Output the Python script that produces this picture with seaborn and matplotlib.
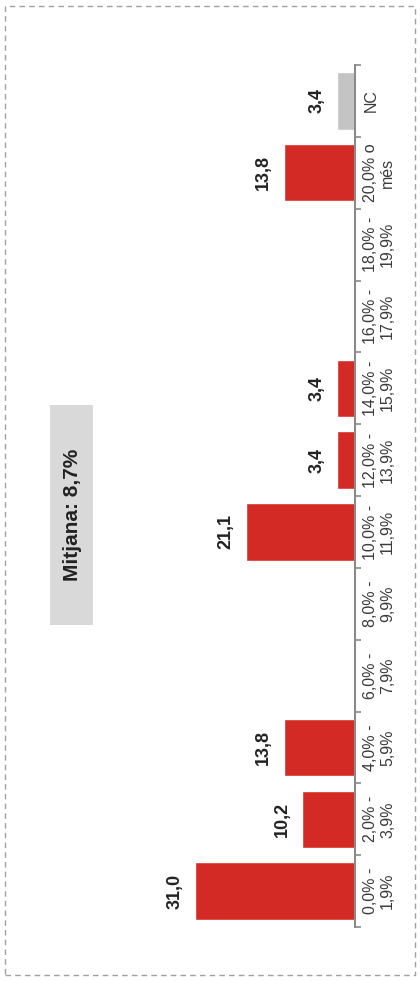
import matplotlib
matplotlib.use("Agg")
import matplotlib.pyplot as plt
from matplotlib.patches import Rectangle
import seaborn as sns
import pandas as pd

# Distribution of responses by percentage band (share of respondents, %)
categories = [
    "0,0% -\n1,9%", "2,0% -\n3,9%", "4,0% -\n5,9%", "6,0% -\n7,9%",
    "8,0% -\n9,9%", "10,0% -\n11,9%", "12,0% -\n13,9%", "14,0% -\n15,9%",
    "16,0% -\n17,9%", "18,0% -\n19,9%", "20,0% o\nmés", "NC",
]
values = [31.0, 10.2, 13.8, 0.0, 0.0, 21.1, 3.4, 3.4, 0.0, 0.0, 13.8, 3.4]
mean_label = "Mitjana: 8,7%"

RED = "#d42a25"
GREY_BAR = "#c4c4c4"
AXIS = "#8a8a8a"

sns.set_theme(style="white")
plt.rcParams["font.family"] = ["Liberation Sans", "DejaVu Sans"]

W, H = 420, 981
fig = plt.figure(figsize=(W / 100, H / 100), dpi=100)
fig.patch.set_facecolor("white")

ax = fig.add_axes([0.0, (H - 927) / H, 355 / W, (927 - 65) / H])
df = pd.DataFrame({"cat": categories, "val": values})
palette = [RED] * (len(categories) - 1) + [GREY_BAR]
sns.barplot(data=df, x="val", y="cat", hue="cat", order=categories,
            hue_order=categories, palette=palette, orient="h", width=0.8,
            saturation=1, legend=False, ax=ax)

# bars grow leftwards from the axis on the right; first band at the bottom
ax.set_xlim(68.8, 0)
ax.set_ylim(-0.5, len(categories) - 0.5)
ax.set_xlabel("")
ax.set_ylabel("")
ax.set_xticks([])

for side in ("left", "top", "bottom"):
    ax.spines[side].set_visible(False)
ax.spines["right"].set_visible(True)
ax.spines["right"].set_color(AXIS)
ax.spines["right"].set_linewidth(1.5)

ax.yaxis.tick_right()
ax.set_yticks(range(len(categories)))
ax.set_yticklabels(categories, rotation=90, va="center", ha="left",
                   multialignment="center", fontsize=11.5, color="#3a3a3a",
                   linespacing=1.15)
ax.tick_params(axis="y", which="major", length=0, pad=6)
ax.set_yticks([i - 0.5 for i in range(len(categories) + 1)], minor=True)
ax.tick_params(axis="y", which="minor", length=4, width=1.2, color=AXIS,
               direction="out", right=True, left=False)

for i, v in enumerate(values):
    if v > 0:
        ax.text(v + 2.3, i, f"{v:.1f}".replace(".", ","), rotation=90,
                ha="right", va="center", fontsize=13, fontweight="bold",
                color="#222222")

# mean annotation box
fig.patches.append(Rectangle((50 / W, (H - 625) / H), 43 / W, 220 / H,
                             transform=fig.transFigure, facecolor="#d9d9d9",
                             edgecolor="none", zorder=0))
fig.text(73 / W, 1 - 515 / H, mean_label, rotation=90, ha="center",
         va="center", fontsize=15, fontweight="bold", color="#222222")

# dashed frame around the whole figure
fig.patches.append(Rectangle((5 / W, 6 / H), 410 / W, 969 / H,
                             transform=fig.transFigure, fill=False,
                             edgecolor="#a0a0a0", linestyle=(0, (4, 3)),
                             linewidth=1))

fig.savefig("out.png", dpi=100)
